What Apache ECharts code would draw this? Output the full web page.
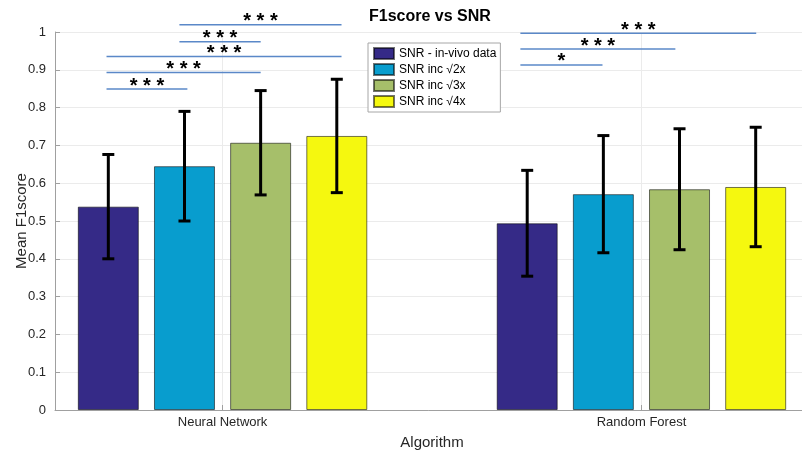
<!DOCTYPE html>
<html>
<head>
<meta charset="utf-8">
<title>F1score vs SNR</title>
<script src="https://cdn.jsdelivr.net/npm/echarts@6/dist/echarts.min.js"></script>
<style>
    html,body{margin:0;padding:0;background:#fff;}
    #chart{width:802px;height:450px;}
</style>
</head>
<body>
<div id="chart"></div>
<script>
    // groups on the x axis, drawn at x = 1 and x = 2
    var algorithms = ['Neural Network', 'Random Forest'];
    var seriesNames = ['SNR - in-vivo data', 'SNR inc \u221A2x', 'SNR inc \u221A3x', 'SNR inc \u221A4x'];

    // mean F1score per algorithm
    var meanInVivo = [0.538, 0.494];
    var meanInc2   = [0.645, 0.571];
    var meanInc3   = [0.707, 0.584];
    var meanInc4   = [0.725, 0.590];

    // error bar half length per algorithm
    var errInVivo = [0.138, 0.140];
    var errInc2   = [0.145, 0.155];
    var errInc3   = [0.138, 0.160];
    var errInc4   = [0.150, 0.158];

    // significance brackets: start x, end x, height, stars
    var sigX1 = [0.723, 0.723, 0.723, 0.897, 0.897, 1.711, 1.711, 1.711];
    var sigX2 = [0.916, 1.091, 1.284, 1.091, 1.284, 1.907, 2.081, 2.274];
    var sigY  = [0.849, 0.893, 0.935, 0.974, 1.019, 0.913, 0.955, 0.997];
    var sigLabels = ['***', '***', '***', '***', '***', '*', '***', '***'];

    var colors = ['#352a87', '#089dce', '#a6bf6a', '#f5f80f'];

    var means = [meanInVivo, meanInc2, meanInc3, meanInc4];
    var errs = [errInVivo, errInc2, errInc3, errInc4];

    // matlab grouped bar layout: 4 bars in a group width of 4/5.5
    var step = (4 / 5.5) / 4;
    function barX(g, s){
        return g + 1 + (s - 1.5) * step;
    }

    var barSeries = means.map(function(m, s){
        return {
            name: seriesNames[s],
            type: 'bar',
            barWidth: 61,
            barGap: '-100%',
            itemStyle: {color: colors[s], borderColor: 'rgba(0,0,0,0.55)', borderWidth: 1},
            data: m.map(function(v, g){ return [barX(g, s), v]; })
        };
    });

    var errData = [];
    means.forEach(function(m, s){
        m.forEach(function(v, g){
            errData.push([barX(g, s), v - errs[s][g], v + errs[s][g]]);
        });
    });

    var sigData = sigY.map(function(y, i){ return [sigX1[i], sigX2[i], y]; });

    var chart = echarts.init(document.getElementById('chart'));
    chart.setOption({
        animation: false,
        textStyle: {fontFamily: 'Liberation Sans, Arial, sans-serif'},
        title: {
            text: 'F1score vs SNR',
            left: 369,
            top: 9,
            padding: 0,
            textStyle: {fontSize: 16, fontWeight: 'bold', color: '#000'}
        },
        legend: {
            orient: 'vertical',
            left: 368,
            top: 43,
            padding: [4, 4, 4, 5],
            itemWidth: 20,
            itemHeight: 11,
            itemGap: 3,
            itemTextGap: 2,
            icon: 'rect',
            backgroundColor: '#fff',
            borderColor: '#a6a6a6',
            borderWidth: 1,
            textStyle: {fontSize: 12, color: '#000'},
            data: seriesNames
        },
        grid: {left: 55, right: -7, top: 32, bottom: 40, outerBoundsMode: 'none', containLabel: false},
        xAxis: {
            type: 'value',
            min: 0.6,
            max: 2.4,
            name: 'Algorithm',
            nameLocation: 'middle',
            nameGap: 25,
            nameTextStyle: {fontSize: 15, color: '#262626'},
            axisLine: {lineStyle: {color: '#a0a0a0'}},
            axisTick: {inside: true, length: 5, lineStyle: {color: '#a0a0a0'}, customValues: [1, 2]},
            axisLabel: {
                margin: 6,
                fontSize: 13,
                color: '#262626',
                customValues: [1, 2],
                formatter: function(v){ return algorithms[Math.round(v) - 1]; }
            },
            splitLine: {show: true, lineStyle: {color: '#ebebeb'}}
        },
        yAxis: {
            type: 'value',
            min: 0,
            max: 1,
            interval: 0.1,
            name: 'Mean F1score',
            nameLocation: 'middle',
            nameGap: 26,
            nameMoveOverlap: false,
            nameTextStyle: {fontSize: 15, color: '#262626'},
            axisLine: {show: true, lineStyle: {color: '#a0a0a0'}},
            axisTick: {show: true, inside: true, length: 5, lineStyle: {color: '#a0a0a0'}},
            axisLabel: {margin: 9, fontSize: 13, color: '#262626'},
            splitLine: {lineStyle: {color: '#ebebeb'}}
        },
        series: barSeries.concat([
            {
                type: 'custom',
                name: 'errorbars',
                z: 5,
                encode: {x: 0, y: [1, 2]},
                renderItem: function(params, api){
                    var lo = api.coord([api.value(0), api.value(1)]);
                    var hi = api.coord([api.value(0), api.value(2)]);
                    var w = 6;
                    var style = {stroke: '#000', lineWidth: 3};
                    return {
                        type: 'group',
                        children: [
                            {type: 'line', shape: {x1: lo[0], y1: lo[1], x2: hi[0], y2: hi[1]}, style: style},
                            {type: 'line', shape: {x1: lo[0] - w, y1: lo[1], x2: lo[0] + w, y2: lo[1]}, style: style},
                            {type: 'line', shape: {x1: hi[0] - w, y1: hi[1], x2: hi[0] + w, y2: hi[1]}, style: style}
                        ]
                    };
                },
                data: errData
            },
            {
                type: 'custom',
                name: 'significance',
                z: 6,
                clip: false,
                encode: {x: [0, 1], y: 2},
                renderItem: function(params, api){
                    var a = api.coord([api.value(0), api.value(2)]);
                    var b = api.coord([api.value(1), api.value(2)]);
                    return {
                        type: 'group',
                        children: [
                            {type: 'line', shape: {x1: a[0], y1: a[1], x2: b[0], y2: b[1]},
                                style: {stroke: '#5a88c8', lineWidth: 1.5}},
                            {type: 'text', x: (a[0] + b[0]) / 2, y: a[1] - 3,
                                style: {
                                    text: sigLabels[params.dataIndex].split('').join(' '),
                                    fill: '#000',
                                    font: 'bold 20px Liberation Sans',
                                    align: 'center',
                                    verticalAlign: 'middle'
                                }}
                        ]
                    };
                },
                data: sigData
            }
        ])
    });
</script>
</body>
</html>
